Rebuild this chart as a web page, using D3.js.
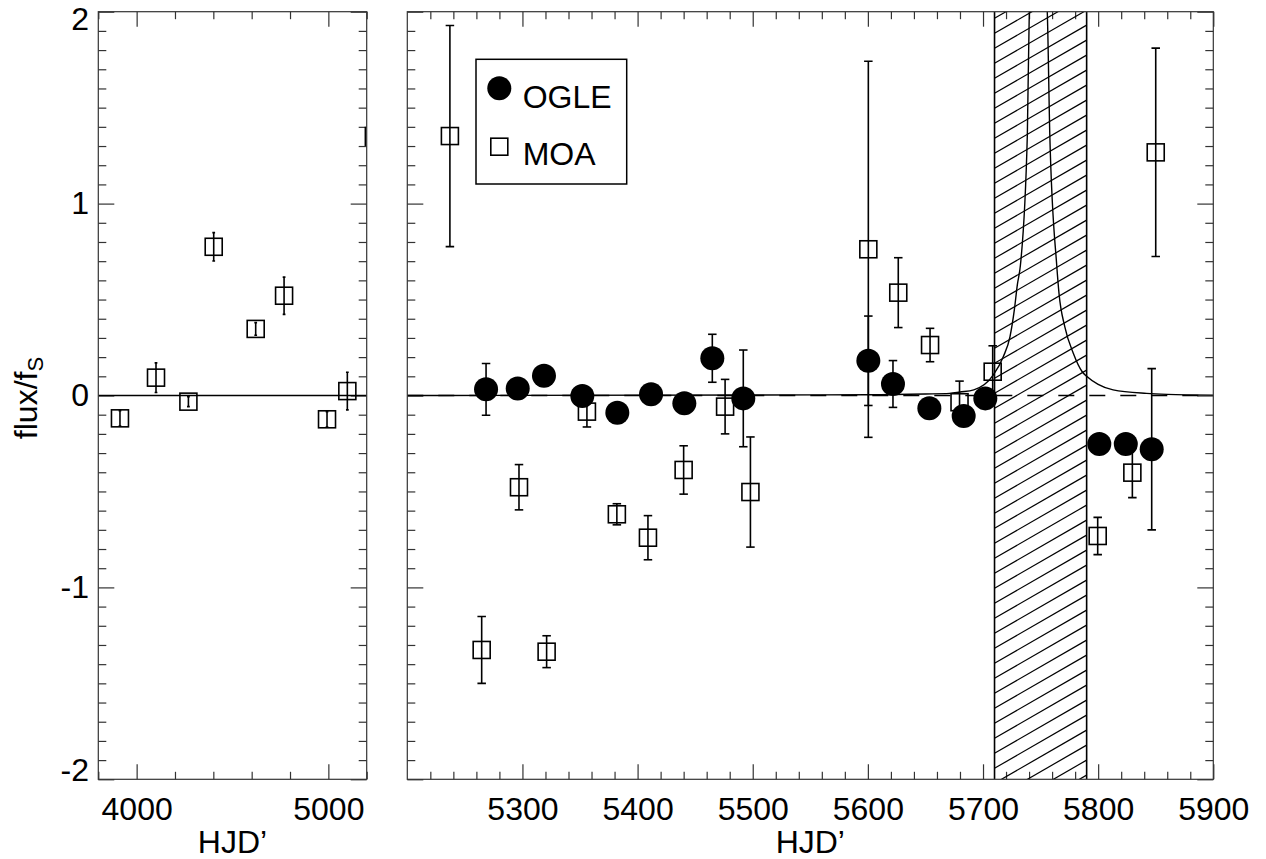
<!doctype html>
<meta charset="utf-8" />
<style>body{margin:0;background:#fff}</style>
<svg></svg>

<script src="https://cdn.jsdelivr.net/npm/d3@7/dist/d3.min.js"></script>

<script>
    // MOA, early seasons (left panel)
    var moaLeftT = [3913, 4101, 4270, 4402, 4621, 4769, 4993, 5099];
    var moaLeftF = [-0.119, 0.093, -0.032, 0.775, 0.347, 0.52, -0.124, 0.023];
    var moaLeftE = [0.04, 0.077, 0.026, 0.074, 0.033, 0.097, 0.04, 0.098];
    // bar sitting at the right edge of the left panel
    var edgeBarT = [5193];
    var edgeBarF = [1.35];
    var edgeBarE = [0.05];

    // OGLE (right panel)
    var ogleT = [5268.4, 5295.9, 5318.7, 5352, 5382.4, 5411.7, 5440.6, 5464.9, 5491.8,
                 5600.4, 5621.8, 5653.4, 5683.2, 5702, 5801, 5824, 5846.5];
    var ogleF = [0.032, 0.037, 0.103, -0.003, -0.09, 0.006, -0.041, 0.194, -0.015,
                 0.181, 0.06, -0.067, -0.107, -0.015, -0.253, -0.253, -0.28];
    var ogleE = [0.135, 0.03, 0.03, 0.03, 0.03, 0.03, 0.03, 0.125, 0.252,
                 0.233, 0.122, 0.03, 0.03, 0.03, 0.03, 0.03, 0.42];

    // MOA (right panel)
    var moaT = [5237, 5264.6, 5297, 5321, 5356, 5382, 5409, 5440, 5476, 5498,
                5600.4, 5626.4, 5654, 5679.6, 5708.4, 5799.6, 5829.7, 5850];
    var moaF = [1.352, -1.326, -0.478, -1.335, -0.084, -0.619, -0.741, -0.388, -0.058, -0.503,
                0.762, 0.536, 0.263, -0.035, 0.124, -0.732, -0.402, 1.267];
    var moaE = [0.576, 0.174, 0.118, 0.083, 0.08, 0.055, 0.115, 0.126, 0.142, 0.287,
                0.98, 0.182, 0.087, 0.11, 0.135, 0.097, 0.13, 0.543];

    // model curve
    var modelT = [5200, 5600, 5650, 5671, 5680, 5692, 5709, 5717.6, 5723.4, 5727.2, 5729.8, 5732.5,
                  5738.5, 5740.2, 5748, 5755.8, 5758, 5764, 5766, 5771, 5778.4, 5786, 5790, 5800,
                  5813, 5842, 5860, 5900];
    var modelF = [0, 0.004, 0.008, 0.011, 0.018, 0.029, 0.107, 0.202, 0.306, 0.446, 0.576, 0.68,
                  1.36, 2.0, 2.6, 2.0, 1.36, 0.68, 0.532, 0.359, 0.22, 0.125, 0.1, 0.058,
                  0.029, 0.011, 0.006, 0.002];

    var hatchRange = [5710, 5790];

    var leftTicks = [4000, 5000];
    var rightTicks = [5300, 5400, 5500, 5600, 5700, 5800, 5900];
    var yTicks = [-2, -1, 0, 1, 2];

    var W = 1266, H = 859;
    var yTop = 11.7, yBot = 779.3;
    var ink = '#333';
    var fs = '32px';

    var svg = d3.select('svg')
        .attr('width', W)
        .attr('height', H)
        .style('font-family', '"Liberation Sans", Arial, sans-serif');

    var defs = svg.append('defs');

    var y = d3.scaleLinear().domain([-2, 2]).range([yBot, yTop]);
    var xL = d3.scaleLinear().domain([3800, 5200]).range([98.3, 366.7]);
    var xR = d3.scaleLinear().domain([5200, 5900]).range([407.3, 1213.3]);

    var plain = function (d) { return String(d); };

    function zip(t, f, e) {
        return t.map(function (d, i) { return { t: d, f: f[i], e: e[i] }; });
    }

    function minor(lo, hi, step, majorStep) {
        return d3.range(Math.round(lo / step), Math.round(hi / step) + 1)
            .map(function (k) { return +(k * step).toFixed(6); })
            .filter(function (v) { return Math.abs(v / majorStep - Math.round(v / majorStep)) > 1e-6; });
    }

    function styleAxis(g) {
        g.select('.domain').remove();
        g.selectAll('line').attr('stroke', ink).attr('stroke-width', 1.2);
        g.selectAll('text').attr('fill', '#000').style('font-size', fs)
            .style('font-family', '"Liberation Sans", Arial, sans-serif');
    }

    function panel(id, x, xMajor, xMinor, showY) {
        var g = svg.append('g');
        var x0 = x.range()[0], x1 = x.range()[1];

        defs.append('clipPath').attr('id', 'clip-' + id)
            .append('rect').attr('x', x0).attr('y', yTop).attr('width', x1 - x0).attr('height', yBot - yTop);

        // bottom
        g.append('g').attr('transform', 'translate(0,' + yBot + ')')
            .call(d3.axisBottom(x).tickValues(xMajor).tickSize(-15).tickPadding(18).tickFormat(plain))
            .call(styleAxis);
        g.append('g').attr('transform', 'translate(0,' + yBot + ')')
            .call(d3.axisBottom(x).tickValues(xMinor).tickSize(-7.5).tickFormat(''))
            .call(styleAxis);
        // top
        g.append('g').attr('transform', 'translate(0,' + yTop + ')')
            .call(d3.axisTop(x).tickValues(xMajor).tickSize(-15).tickFormat(''))
            .call(styleAxis);
        g.append('g').attr('transform', 'translate(0,' + yTop + ')')
            .call(d3.axisTop(x).tickValues(xMinor).tickSize(-7.5).tickFormat(''))
            .call(styleAxis);
        // left
        var ly = g.append('g').attr('transform', 'translate(' + x0 + ',0)')
            .call(d3.axisLeft(y).tickValues(yTicks).tickSize(-16).tickPadding(9.3)
                .tickFormat(showY ? plain : ''))
            .call(styleAxis);
        g.append('g').attr('transform', 'translate(' + x0 + ',0)')
            .call(d3.axisLeft(y).tickValues(minor(-2, 2, 0.1, 1)).tickSize(-8).tickFormat(''))
            .call(styleAxis);
        // right
        g.append('g').attr('transform', 'translate(' + x1 + ',0)')
            .call(d3.axisRight(y).tickValues(yTicks).tickSize(-16).tickFormat(''))
            .call(styleAxis);
        g.append('g').attr('transform', 'translate(' + x1 + ',0)')
            .call(d3.axisRight(y).tickValues(minor(-2, 2, 0.1, 1)).tickSize(-8).tickFormat(''))
            .call(styleAxis);

        // end labels sit inside the frame
        ly.selectAll('.tick text').filter(function (d) { return d === 2; }).attr('y', 7.5);
        ly.selectAll('.tick text').filter(function (d) { return d === -2; }).attr('y', -9);

        // x title
        g.append('text')
            .attr('x', (x0 + x1) / 2).attr('y', 853)
            .attr('text-anchor', 'middle')
            .style('font-size', fs)
            .text('HJD\u2019');

        var plot = g.append('g').attr('clip-path', 'url(#clip-' + id + ')');

        g.append('rect')
            .attr('x', x0).attr('y', yTop).attr('width', x1 - x0).attr('height', yBot - yTop)
            .attr('fill', 'none').attr('stroke', ink).attr('stroke-width', 1.2);

        return plot;
    }

    function errorBars(g, x, data, cap) {
        var eb = g.append('g').attr('stroke', '#000').attr('stroke-width', 1.6);
        eb.selectAll('line.v').data(data).join('line').attr('class', 'v')
            .attr('x1', function (d) { return x(d.t); }).attr('x2', function (d) { return x(d.t); })
            .attr('y1', function (d) { return y(d.f - d.e); }).attr('y2', function (d) { return y(d.f + d.e); });
        if (cap) {
            ['lo', 'hi'].forEach(function (k) {
                eb.selectAll('line.' + k).data(data).join('line').attr('class', k)
                    .attr('x1', function (d) { return x(d.t - 3) - 0.8; }).attr('x2', function (d) { return x(d.t + 3) + 0.8; })
                    .attr('y1', function (d) { return y(k === 'lo' ? d.f - d.e : d.f + d.e); })
                    .attr('y2', function (d) { return y(k === 'lo' ? d.f - d.e : d.f + d.e); });
            });
        }
    }

    function squares(g, x, data) {
        g.append('g').selectAll('rect').data(data).join('rect')
            .attr('x', function (d) { return x(d.t) - 8.5; })
            .attr('y', function (d) { return y(d.f) - 8.5; })
            .attr('width', 17).attr('height', 17)
            .attr('fill', 'none').attr('stroke', '#000').attr('stroke-width', 1.6);
    }

    function circles(g, x, data) {
        g.append('g').selectAll('circle').data(data).join('circle')
            .attr('cx', function (d) { return x(d.t); })
            .attr('cy', function (d) { return y(d.f); })
            .attr('r', 12).attr('fill', '#000');
    }

    // ---- left panel
    var pL = panel('l', xL, leftTicks, minor(3800, 5200, 200, 1000), true);
    pL.append('line')
        .attr('x1', xL(3800)).attr('x2', xL(5200)).attr('y1', y(0)).attr('y2', y(0))
        .attr('stroke', '#000').attr('stroke-width', 1.4);
    var moaL = zip(moaLeftT, moaLeftF, moaLeftE);
    errorBars(pL, xL, moaL, true);
    errorBars(pL, xL, zip(edgeBarT, edgeBarF, edgeBarE), false);
    squares(pL, xL, moaL);

    // ---- right panel
    var pR = panel('r', xR, rightTicks, minor(5200, 5900, 20, 100), false);

    var hx0 = xR(hatchRange[0]), hx1 = xR(hatchRange[1]);
    defs.append('clipPath').attr('id', 'hclip')
        .append('rect').attr('x', hx0).attr('y', yTop).attr('width', hx1 - hx0).attr('height', yBot - yTop);
    var rise = Math.tan(30 * Math.PI / 180) * (hx1 - hx0);
    pR.append('g').attr('clip-path', 'url(#hclip)')
        .selectAll('line').data(d3.range(3.3, yBot + rise + 15, 15)).join('line')
        .attr('x1', hx0).attr('x2', hx1)
        .attr('y1', function (d) { return d; }).attr('y2', function (d) { return d - rise; })
        .attr('stroke', '#000').attr('stroke-width', 1.2);
    pR.selectAll('line.edge').data(hatchRange).join('line').attr('class', 'edge')
        .attr('x1', function (d) { return xR(d); }).attr('x2', function (d) { return xR(d); })
        .attr('y1', yTop).attr('y2', yBot)
        .attr('stroke', '#000').attr('stroke-width', 1.6);

    pR.append('line')
        .attr('x1', xR(5200)).attr('x2', xR(5900)).attr('y1', y(0)).attr('y2', y(0))
        .attr('stroke', '#000').attr('stroke-width', 1.4).attr('stroke-dasharray', '16,15');

    var line = d3.line()
        .x(function (d) { return xR(d[0]); })
        .y(function (d) { return y(d[1]); })
        .curve(d3.curveMonotoneX);
    pR.append('path')
        .attr('d', line(modelT.map(function (t, i) { return [t, modelF[i]]; })))
        .attr('fill', 'none').attr('stroke', '#000').attr('stroke-width', 1.4);

    var moaR = zip(moaT, moaF, moaE);
    var ogleR = zip(ogleT, ogleF, ogleE);
    errorBars(pR, xR, moaR, true);
    errorBars(pR, xR, ogleR, true);
    squares(pR, xR, moaR);
    circles(pR, xR, ogleR);

    // ---- legend
    var lg = svg.append('g');
    lg.append('rect').attr('x', 476).attr('y', 59.3).attr('width', 150.7).attr('height', 124.7)
        .attr('fill', '#fff').attr('stroke', '#000').attr('stroke-width', 1.5);
    lg.append('circle').attr('cx', 499.3).attr('cy', 88.3).attr('r', 12).attr('fill', '#000');
    lg.append('rect').attr('x', 499.3 - 8.5).attr('y', 146.7 - 8.5).attr('width', 17).attr('height', 17)
        .attr('fill', 'none').attr('stroke', '#000').attr('stroke-width', 1.6);
    lg.append('text').attr('x', 522.7).attr('y', 108.3).style('font-size', fs).text('OGLE');
    lg.append('text').attr('x', 522.7).attr('y', 165).style('font-size', fs).text('MOA');

    // ---- y title
    var yt = svg.append('text')
        .attr('transform', 'translate(37,398) rotate(-90)')
        .attr('text-anchor', 'middle')
        .style('font-size', fs);
    yt.append('tspan').text('flux/f');
    yt.append('tspan').attr('dy', 6).style('font-size', '22px').text('S');
</script>
